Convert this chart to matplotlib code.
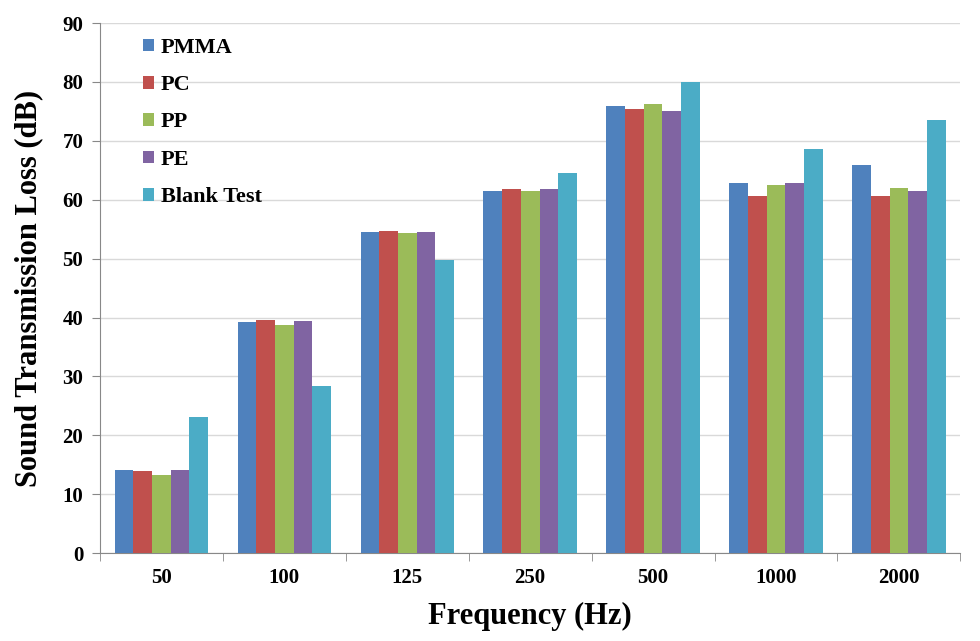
import numpy as np
import matplotlib.pyplot as plt

freqs = ["50", "100", "125", "250", "500", "1000", "2000"]
pmma = [14.1, 39.3, 54.6, 61.5, 76.0, 62.8, 65.9]
pc = [13.9, 39.6, 54.7, 61.75, 75.35, 60.7, 60.6]
pp = [13.3, 38.7, 54.4, 61.5, 76.3, 62.5, 62.0]
pe = [14.2, 39.4, 54.5, 61.75, 75.0, 62.8, 61.5]
blank = [23.2, 28.4, 49.7, 64.6, 80.0, 68.6, 73.5]

series = [("PMMA", pmma, "#4F81BD"),
          ("PC", pc, "#C0504D"),
          ("PP", pp, "#9BBB59"),
          ("PE", pe, "#8064A2"),
          ("Blank Test", blank, "#4BACC6")]

plt.rcParams['font.family'] = ['Liberation Serif', 'DejaVu Serif']
plt.rcParams['font.weight'] = 'bold'

fig = plt.figure(figsize=(9.8, 6.41), dpi=100)
ax = fig.add_axes([0.102, 0.137, 0.878, 0.827])

x = np.arange(len(freqs))
w = 0.152
for i, (name, vals, col) in enumerate(series):
    ax.bar(x + (i - 2) * w, vals, w, color=col, label=name, zorder=3)

ax.set_xlim(-0.5, len(freqs) - 0.5)
ax.set_ylim(0, 90)
ax.set_yticks(range(0, 91, 10))
ax.set_xticks(x)
ax.set_xticklabels(freqs)
ax.set_xticks(np.arange(-0.5, len(freqs), 1), minor=True)
ax.tick_params(axis='x', which='major', length=0, pad=11, labelsize=15)
ax.tick_params(axis='x', which='minor', length=6, color='#888888', direction='out')
ax.tick_params(axis='y', length=6, color='#888888', labelsize=15, pad=6)
for lab in ax.get_xticklabels() + ax.get_yticklabels():
    lab.set_fontweight('bold')

ax.grid(axis='y', color='#d9d9d9', linewidth=1, zorder=0)
for s in ['top', 'right']:
    ax.spines[s].set_visible(False)
ax.spines['left'].set_color('#888888')
ax.spines['bottom'].set_color('#888888')

ax.set_xlabel("Frequency (Hz)", fontsize=22, fontweight='bold', labelpad=10)
ax.set_ylabel("Sound Transmission Loss (dB)", fontsize=22, fontweight='bold', labelpad=14)

leg = ax.legend(loc='upper left', bbox_to_anchor=(0.027, 1.01), frameon=False,
                prop={'size': 16, 'weight': 'bold'}, labelspacing=0.78,
                handlelength=0.5, handleheight=0.5, handletextpad=0.3)

fig.savefig("out.png", dpi=100)
